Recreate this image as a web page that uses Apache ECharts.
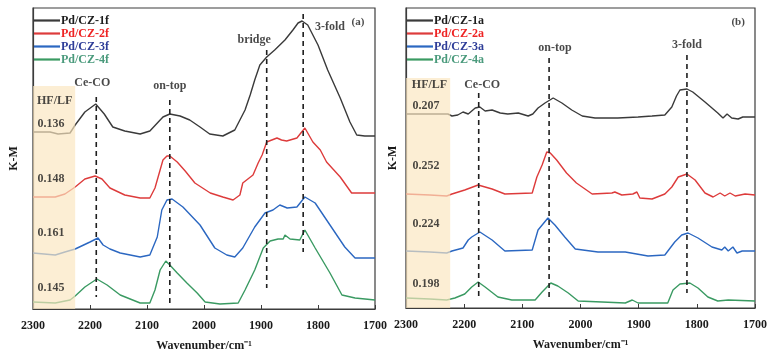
<!DOCTYPE html>
<html><head><meta charset="utf-8">
<script src="https://cdn.jsdelivr.net/npm/echarts@6/dist/echarts.min.js"></script>
<style>html,body{margin:0;padding:0;background:#fff}#c{width:774px;height:360px}</style>
</head><body><div id="c"></div>
<script>
// ---------- Panel (a) ----------
const seriesNamesA = ['Pd/CZ-1f','Pd/CZ-2f','Pd/CZ-3f','Pd/CZ-4f'];
const wn1f = [2300,2270,2256,2235,2226,2209,2190,2175,2160,2139,2112,2095,2072,2060,2042,2025,2007,1990,1967,1946,1928,1919,1911,1902,1890,1876,1858,1844,1835,1828,1818,1800,1783,1761,1744,1732,1718,1700];
const km1f = [1.77,1.77,1.75,1.76,1.84,1.97,2.05,1.95,1.82,1.78,1.75,1.78,1.92,1.95,1.93,1.89,1.82,1.75,1.73,1.79,1.99,2.14,2.29,2.44,2.52,2.59,2.69,2.79,2.86,2.88,2.84,2.64,2.39,2.11,1.87,1.74,1.73,1.73];
const wn2f = [2300,2261,2244,2226,2209,2191,2179,2165,2139,2112,2095,2086,2077,2072,2065,2060,2047,2033,2016,1989,1967,1949,1937,1932,1914,1905,1898,1890,1872,1864,1855,1837,1823,1809,1796,1785,1761,1741,1726,1700];
const km2f = [1.12,1.12,1.15,1.22,1.30,1.33,1.30,1.21,1.14,1.11,1.11,1.21,1.39,1.49,1.53,1.53,1.47,1.38,1.26,1.16,1.12,1.09,1.14,1.26,1.34,1.46,1.54,1.67,1.71,1.69,1.68,1.71,1.81,1.67,1.59,1.47,1.32,1.16,1.16,1.16];
const wn3f = [2300,2261,2244,2226,2200,2186,2177,2165,2147,2112,2095,2082,2074,2065,2056,2037,2007,1981,1960,1946,1932,1911,1893,1879,1867,1854,1837,1823,1805,1779,1753,1735,1700];
const km3f = [0.56,0.54,0.57,0.60,0.67,0.71,0.64,0.60,0.56,0.52,0.54,0.72,0.99,1.09,1.10,1.02,0.84,0.61,0.54,0.52,0.61,0.82,0.96,0.99,1.04,1.01,1.02,1.12,1.06,0.84,0.62,0.51,0.51];
const wn4f = [2300,2261,2235,2226,2209,2188,2170,2147,2112,2095,2086,2077,2067,2060,2047,2030,2012,1998,1972,1940,1928,1911,1896,1884,1870,1861,1858,1849,1832,1823,1805,1779,1758,1735,1700];
const km4f = [0.07,0.06,0.09,0.13,0.22,0.30,0.24,0.14,0.06,0.06,0.19,0.39,0.48,0.44,0.36,0.26,0.16,0.07,0.05,0.06,0.19,0.39,0.61,0.68,0.70,0.70,0.74,0.70,0.69,0.79,0.61,0.36,0.14,0.11,0.09];
const ratioA = ['0.136','0.148','0.161','0.145'];
const ratioPosA = [1.85,1.30,0.76,0.21];
const peakNamesA = ['Ce-CO','on-top','bridge','3-fold'];
const peakWnA = [2189,2060,1890,1826];
const peakLineTopA = [2.12,2.09,2.59,2.95];
const peakLineBotA = [0.12,0.06,0.21,0.57];
const peakLabelWnA = [2196,2060,1912,1779];
const peakLabelYA = [2.26,2.23,2.69,2.82];

// ---------- Panel (b) ----------
const seriesNamesB = ['Pd/CZ-1a','Pd/CZ-2a','Pd/CZ-3a','Pd/CZ-4a'];
const wn1a = [2300,2228,2221,2211,2202,2193,2181,2173,2164,2152,2138,2125,2107,2090,2082,2073,2061,2047,2032,2015,1997,1975,1936,1901,1877,1855,1843,1835,1829,1817,1807,1786,1764,1755,1748,1740,1729,1721,1700];
const km1a = [1.94,1.94,1.92,1.93,1.96,1.94,2.00,2.01,1.97,1.98,1.95,1.94,1.95,1.92,1.94,2.00,2.05,2.10,2.05,1.98,1.92,1.90,1.90,1.91,1.92,1.93,2.01,2.12,2.18,2.19,2.16,2.06,1.95,1.90,1.94,1.90,1.89,1.91,1.91];
const wn2a = [2300,2259,2230,2221,2199,2176,2152,2130,2083,2075,2066,2058,2052,2041,2024,2007,1980,1946,1941,1929,1910,1903,1898,1877,1855,1843,1832,1817,1803,1786,1772,1760,1752,1743,1734,1717,1700];
const km2a = [1.14,1.13,1.12,1.14,1.18,1.23,1.19,1.14,1.15,1.31,1.43,1.56,1.55,1.48,1.35,1.25,1.14,1.15,1.16,1.13,1.14,1.16,1.10,1.09,1.14,1.21,1.31,1.34,1.28,1.15,1.11,1.15,1.12,1.15,1.12,1.14,1.13];
const wn3a = [2300,2259,2230,2221,2202,2193,2187,2173,2152,2130,2083,2073,2056,2044,2027,2009,1970,1923,1884,1855,1838,1826,1815,1798,1774,1757,1752,1746,1738,1731,1722,1700];
const km3a = [0.57,0.56,0.55,0.57,0.60,0.68,0.71,0.76,0.68,0.57,0.58,0.78,0.90,0.83,0.71,0.59,0.56,0.56,0.52,0.53,0.66,0.73,0.75,0.70,0.61,0.58,0.61,0.57,0.61,0.55,0.57,0.57];
const wn4a = [2300,2259,2230,2216,2199,2187,2176,2164,2142,2118,2078,2066,2051,2039,2021,2004,1963,1923,1911,1901,1850,1841,1829,1812,1798,1781,1764,1746,1700];
const km4a = [0.10,0.09,0.08,0.10,0.14,0.21,0.26,0.21,0.11,0.08,0.08,0.16,0.25,0.22,0.15,0.07,0.06,0.05,0.08,0.05,0.05,0.18,0.24,0.25,0.20,0.11,0.07,0.08,0.07];
const ratioB = ['0.207','0.252','0.224','0.198'];
const ratioPosB = [2.02,1.42,0.84,0.24];
const peakNamesB = ['Ce-CO','on-top','3-fold'];
const peakWnB = [2175,2054,1817];
const peakLineTopB = [2.15,2.50,2.53];
const peakLineBotB = [0.11,0.11,0.15];
const peakLabelWnB = [2169,2044,1817];
const peakLabelYB = [2.23,2.60,2.63];

const colors = ['#3a3a3a','#dd3b3b','#2b67c1','#3a9a62'];
const legendColors = ['#1c1c1c','#ee2424','#2e3d98','#4a9a7c'];
const FONT = '"Liberation Serif","Times New Roman",serif';
const BOX_FILL = 'rgba(250,230,191,0.68)';

const chart = echarts.init(document.getElementById('c'), null, {renderer:'canvas'});

function lineSeries(name, xs, ys, color, idx){
  return {type:'line', name, xAxisIndex:idx, yAxisIndex:idx, data: xs.map((x,i)=>[x,ys[i]]),
    symbol:'none', showSymbol:false, lineStyle:{width:1.4,color}, itemStyle:{color}, z:2, animation:false};
}
function boxSeries(idx, wnLeft, wnRight, top){
  return {type:'custom', xAxisIndex:idx, yAxisIndex:idx, z:5, silent:true, animation:false,
    data:[[wnLeft, top, wnRight]],
    renderItem(params, api){
      const p1 = api.coord([api.value(0), api.value(1)]);
      const p2 = api.coord([api.value(2), 0]);
      return {type:'rect', shape:{x:p1[0], y:p1[1], width:p2[0]-p1[0], height:p2[1]-p1[1]},
        style:{fill:BOX_FILL}};
    }};
}
function dashSeries(idx, wns, tops, bots){
  return {type:'custom', xAxisIndex:idx, yAxisIndex:idx, z:4, silent:true, animation:false,
    data: wns.map((w,i)=>[w, tops[i], bots[i]]),
    renderItem(params, api){
      const a = api.coord([api.value(0), api.value(1)]);
      const b = api.coord([api.value(0), api.value(2)]);
      return {type:'line', shape:{x1:a[0], y1:a[1], x2:b[0], y2:b[1]},
        style:{stroke:'#1e1e1e', lineWidth:1.6, lineDash:[5,4]}};
    }};
}
function textSeries(idx, items){
  return {type:'scatter', xAxisIndex:idx, yAxisIndex:idx, z:10, silent:true, animation:false,
    symbolSize:0,
    data: items.map(it=>({value:[it.x,it.y], label:{show:true, formatter:it.t,
      position: it.left ? 'right' : 'inside', distance:0,
      fontFamily:FONT, fontWeight:'bold', fontSize: it.fs || 12, color:'#1a1a1a'}}))};
}

const textA = [
  {x:2293, y:2.08, t:'HF/LF', left:true},
  ...ratioA.map((t,i)=>({x:2292, y:ratioPosA[i], t, left:true})),
  ...peakNamesA.map((t,i)=>({x:peakLabelWnA[i], y:peakLabelYA[i], t})),
  {x:1730, y:2.87, t:'(a)', fs:11}
];
const textB = [
  {x:2290, y:2.23, t:'HF/LF', left:true},
  ...ratioB.map((t,i)=>({x:2289, y:ratioPosB[i], t, left:true})),
  ...peakNamesB.map((t,i)=>({x:peakLabelWnB[i], y:peakLabelYB[i], t})),
  {x:1729, y:2.86, t:'(b)', fs:11}
];

function xAxis(idx){
  return {type:'value', gridIndex:idx, min:1700, max:2300, interval:100, inverse:true,
    name:'Wavenumber/cm⁻¹', nameLocation:'middle', nameGap:31,
    nameTextStyle:{fontFamily:FONT, fontWeight:'bold', fontSize:12, color:'#1a1a1a'},
    axisLine:{show:true, lineStyle:{color:'#3c3c3c', width:1.2}},
    axisTick:{show:true, inside:true, length:4, lineStyle:{color:'#3c3c3c'}},
    axisLabel:{margin:11, fontFamily:FONT, fontWeight:'bold', fontSize:12, color:'#1a1a1a', formatter:v=>String(v)},
    splitLine:{show:false}};
}
function yAxis(idx, max, gap){
  return {type:'value', gridIndex:idx, min:0, max, name:'K-M', nameLocation:'middle', nameGap:gap, nameRotate:90,
    nameTextStyle:{fontFamily:FONT, fontWeight:'bold', fontSize:12, color:'#1a1a1a'},
    axisLine:{show:true, lineStyle:{color:'#3c3c3c', width:1.2}},
    axisTick:{show:false}, axisLabel:{show:false}, splitLine:{show:false}};
}
function legend(names, left){
  return {orient:'vertical', left, top:14, padding:0, itemGap:0, itemWidth:26, itemHeight:2.2,
    icon:'rect', selectedMode:false,
    data: names.map((n,i)=>({name:n, textStyle:{color:legendColors[i]}})),
    textStyle:{fontFamily:FONT, fontWeight:'bold', fontSize:12, lineHeight:13, padding:[0,0,0,-4]}};
}

const option = {
  backgroundColor:'#fff',
  animation:false,
  grid:[
    {left:33, top:8, width:342, height:301, show:true, borderColor:'#3c3c3c', borderWidth:1.2, backgroundColor:'transparent'},
    {left:406, top:8, width:349, height:300, show:true, borderColor:'#3c3c3c', borderWidth:1.2, backgroundColor:'transparent'}
  ],
  xAxis:[xAxis(0), xAxis(1)],
  yAxis:[yAxis(0, 3.01, 13), yAxis(1, 3.0, 7)],
  legend:[legend(seriesNamesA, 34), legend(seriesNamesB, 407)],
  series:[
    lineSeries(seriesNamesA[0], wn1f, km1f, colors[0], 0),
    lineSeries(seriesNamesA[1], wn2f, km2f, colors[1], 0),
    lineSeries(seriesNamesA[2], wn3f, km3f, colors[2], 0),
    lineSeries(seriesNamesA[3], wn4f, km4f, colors[3], 0),
    lineSeries(seriesNamesB[0], wn1a, km1a, colors[0], 1),
    lineSeries(seriesNamesB[1], wn2a, km2a, colors[1], 1),
    lineSeries(seriesNamesB[2], wn3a, km3a, colors[2], 1),
    lineSeries(seriesNamesB[3], wn4a, km4a, colors[3], 1),
    boxSeries(0, 2300, 2226, 2.23),
    boxSeries(1, 2300, 2224, 2.30),
    dashSeries(0, peakWnA, peakLineTopA, peakLineBotA),
    dashSeries(1, peakWnB, peakLineTopB, peakLineBotB),
    textSeries(0, textA),
    textSeries(1, textB)
  ]
};
chart.setOption(option);
</script></body></html>
